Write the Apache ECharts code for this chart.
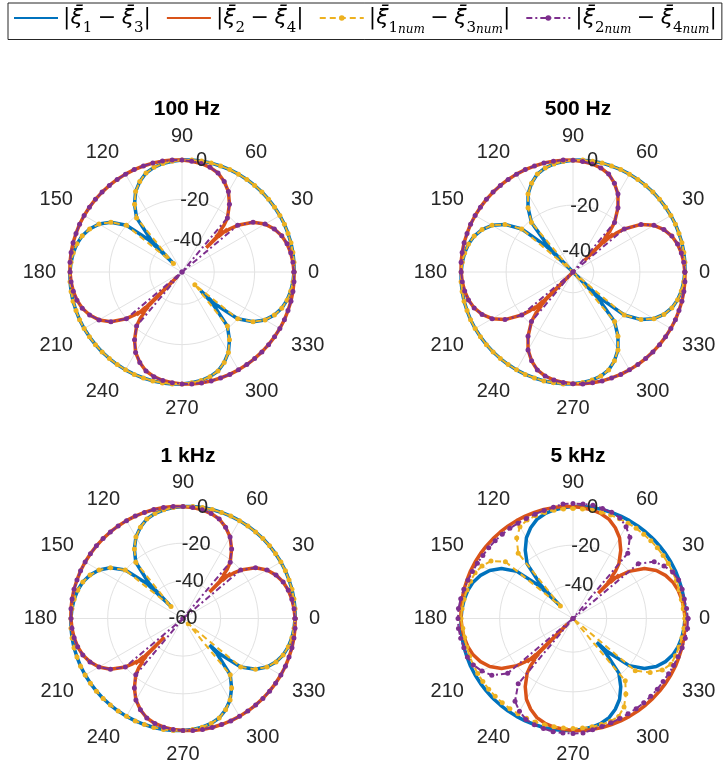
<!DOCTYPE html>
<html><head><meta charset="utf-8">
<script src="https://cdn.jsdelivr.net/npm/echarts@6/dist/echarts.min.js"></script>
<style>html,body{margin:0;padding:0;background:#fff}#c{width:726px;height:765px}</style>
</head><body><div id="c"></div>
<script>
// ---------- data ----------
const panelTitles = ['100 Hz', '500 Hz', '1 kHz', '5 kHz'];
const rMin = [-56, -49, -60, -57];
const rMax = 0;
const angleTickStep = 30;
const radialTickStep = 20;

// |xi1 - xi3| analytic: angles (deg) with extra samples at the nulls; values in dB (null = panel null depth)
const angB = [0,5,10,15,20,25,30,35,40,44,45,46,50,55,60,65,70,75,80,85,90,95,100,105,110,115,120,125,130,134,135,136,
  140,145,150,155,160,165,170,175,180,185,190,195,200,205,210,215,220,224,225,226,230,235,240,245,250,255,260,265,270,
  275,280,285,290,295,300,305,310,314,315,316,320,325,330,335,340,345,350,355,360];
const blueA = [-0.5,-0.3,-0.2,-0.1,-0.1,0,0,0,0, 0,0,0,
  0,0,0,0,-0.1,-0.1,-0.2,-0.3,-0.5,-0.9,-1.4,-2.3,-3.8,-6.5,-10,-15,-21, -34,null,-33,
  -20,-13,-8.5,-5.5,-3.4,-2.1,-1.3,-0.8,-0.5,-0.3,-0.2,-0.1,-0.1,0,0,0,0, 0,0,0,
  0,0,0,0,-0.1,-0.1,-0.2,-0.3,-0.5,-0.9,-1.4,-2.3,-3.8,-6.5,-10,-15,-21, -34,null,-33,
  -20,-13,-8.5,-5.5,-3.4,-2.1,-1.3,-0.8,-0.5];
// |xi2 - xi4| analytic: denser, noisy samples around its nulls (45, 225 deg)
const angR = [0,5,10,15,20,25,30,35,40,42,43,43.5,44,44.5,45,45.5,46,46.5,47,48,
  50,55,60,65,70,75,80,85,90,95,100,105,110,115,120,125,130,135,
  140,145,150,155,160,165,170,175,180,185,190,195,200,205,210,215,220,222,223,223.5,224,224.5,225,225.5,226,226.5,227,228,
  230,235,240,245,250,255,260,265,270,275,280,285,290,295,300,305,310,315,320,325,330,335,340,345,350,355,360];
const redA = [-0.5,-0.8,-1.3,-2.1,-3.4,-5.5,-8.5,-13,-20,-24,-27,-25,-31,-28,null,-29,-32,-27,-29,-25,
  -21,-15,-10,-6.5,-3.8,-2.3,-1.4,-0.9,-0.5,-0.3,-0.2,-0.1,-0.1,0,0,0,0,0,
  0,0,0,0,-0.1,-0.1,-0.2,-0.3,-0.5,-0.8,-1.3,-2.1,-3.4,-5.5,-8.5,-13,-20,-24,-27,-25,-31,-28,null,-29,-32,-27,-29,-25,
  -21,-15,-10,-6.5,-3.8,-2.3,-1.4,-0.9,-0.5,-0.3,-0.2,-0.1,-0.1,0,0,0,0,0,0,0,0,0,-0.1,-0.1,-0.2,-0.3,-0.5];
// null depths [first null, second null] per panel
const blueNulls = [[-50,-43],[-49,-48],[-51,-40],[-48,-40]];   // at 135, 315 deg
const redNulls  = [[-39,-53],[-42,-49],[-40,-46],[-39,-53]];   // at 45, 225 deg

// numerical curves: every 5 deg
const angN = [0,5,10,15,20,25,30,35,40,45,50,55,60,65,70,75,80,85,90,95,100,105,110,115,120,125,130,135,
  140,145,150,155,160,165,170,175,180,185,190,195,200,205,210,215,220,225,230,235,240,245,250,255,260,265,270,
  275,280,285,290,295,300,305,310,315,320,325,330,335,340,345,350,355,360];
const yellowLow = [-0.5,-0.3,-0.2,-0.1,-0.1,0,0,0,0,0,
  0,0,0,0,-0.1,-0.1,-0.2,-0.3,-0.5,
  -0.9,-1.4,-2.3,-3.8,-6.5,-10,-15,-21,null,
  -20,-13,-8.5,-5.5,-3.4,-2.1,-1.3,-0.8,-0.5,
  -0.3,-0.2,-0.1,-0.1,0,0,0,0,0,
  0,0,0,0,-0.1,-0.1,-0.2,-0.3,-0.5,
  -0.9,-1.4,-2.3,-3.8,-6.5,-10,-15,-21,null,
  -20,-13,-8.5,-5.5,-3.4,-2.1,-1.3,-0.8,-0.5];
const purpleLow = [-0.5,-0.8,-1.3,-2.1,-3.4,-5.5,-8.5,-13,-20,null,
  -21,-15,-10,-6.5,-3.8,-2.3,-1.4,-0.9,-0.5,
  -0.3,-0.2,-0.1,-0.1,0,0,0,0,0,
  0,0,0,0,-0.1,-0.1,-0.2,-0.3,-0.5,
  -0.8,-1.3,-2.1,-3.4,-5.5,-8.5,-13,-20,null,
  -21,-15,-10,-6.5,-3.8,-2.3,-1.4,-0.9,-0.5,
  -0.3,-0.2,-0.1,-0.1,0,0,0,0,0,
  0,0,0,0,-0.1,-0.1,-0.2,-0.3,-0.5];
const yellowNulls = [[-50,-47],[-49,-49],[-51,-56]];  // at 135, 315 deg (100 Hz, 500 Hz, 1 kHz)
const purpleNulls = [[-56,-56],[-49,-49],[-60,-60]];  // at 45, 225 deg
const yellow5k = [-0.5,-1.2,-1.5,-1.5,-1.5,-1.5,-1.5,-1.5,-1.5,-1.5,
  -1.5,-1.5,-1.5,-1.5,-1.5,-1.5,-1.5,-1.5,-1.5,
  -1.5,-1.5,-1.6,-1.8,-2.2,-3.5,-7.5,-14,-48,
  -12.5,-6.5,-4,-2.5,-2,-1.6,-1.2,-0.8,-0.5,
  -1.2,-1.5,-1.5,-1.5,-1.5,-1.5,-1.5,-1.5,-1.5,
  -1.5,-1.5,-1.5,-1.5,-1.5,-1.5,-1.5,-1.5,-1.5,
  -1.5,-1.5,-1.6,-1.8,-2.5,-5.5,-10.5,-16,-57,
  -16,-9.5,-5,-2.5,-2,-1.6,-1.2,-0.8,-0.5];
const purple5k = [1,0.5,0,0,-0.3,-1.5,-4,-7,-14,-57,
  -14,-7,-3.5,-1,0,0.5,1,1,1,
  1,0,-0.6,-1,-1.3,-1.5,-1.5,-1.5,-1.5,
  -1.5,-1.5,-1.3,-1,-0.6,0,0.5,1,1,
  1,0.5,0,-0.3,-1.5,-4,-7,-14,-57,
  -14,-6,-3,-0.8,0,0.5,1,1,1,
  1,0,-0.6,-1,-1.3,-1.5,-1.5,-1.5,-1.5,
  -1.5,-1.5,-1.3,-1,-0.6,0,0.5,1,1];

const seriesNames = ['b', 'r', 'y', 'p'];
const legendLabels = [
  '{n||}{m|ξ\u0304}{s|1}{n|\u2005−\u2005}{m|ξ\u0304}{s|3}{n||}',
  '{n||}{m|ξ\u0304}{s|2}{n|\u2005−\u2005}{m|ξ\u0304}{s|4}{n||}',
  '{n||}{m|ξ\u0304}{s|1}{ss|num}{n|\u2005−\u2005}{m|ξ\u0304}{s|3}{ss|num}{n||}',
  '{n||}{m|ξ\u0304}{s|2}{ss|num}{n|\u2005−\u2005}{m|ξ\u0304}{s|4}{ss|num}{n||}'
];

// ---------- layout / style ----------
const centers = [[182, 272], [573, 272], [183, 618.5], [573, 618.5]];
const R = 113;          // radius of the 0 dB circle
const dataHeadroom = 3; // dB of extra room in the data polar so curves on 0 dB are not clipped
const C = { b: '#0072BD', r: '#D95319', y: '#EDB120', p: '#7E2F8E' };
const gridCol = '#e2e2e2';
const tickFont = { fontFamily: 'Liberation Sans, Arial, sans-serif', fontSize: 20, color: '#262626' };

function fillNulls(vals, nulls) { let k = 0; return vals.map(v => v === null ? nulls[k++] : v); }
function pairs(vals, angs) { return vals.map((v, i) => [v, angs[i]]); }

const polar = [], angleAxis = [], radiusAxis = [], series = [], title = [];
// 0..3: data polars (slightly larger so that 0 dB sits at R)
for (let i = 0; i < 4; i++) {
  const Rd = R * (rMax + dataHeadroom - rMin[i]) / (rMax - rMin[i]);
  polar.push({ center: centers[i], radius: Rd });
  angleAxis.push({ polarIndex: i, type: 'value', min: 0, max: 360, startAngle: 0, clockwise: false, show: false });
  radiusAxis.push({ polarIndex: i, type: 'value', min: rMin[i], max: rMax + dataHeadroom, show: false });
  title.push({
    text: panelTitles[i], left: centers[i][0], top: centers[i][1] - 178, textAlign: 'center',
    textStyle: { fontFamily: 'Liberation Sans, Arial, sans-serif', fontSize: 21, fontWeight: 'bold', color: '#000' }
  });
}
// 4..7: grid polars (angle labels, spokes, circles)
for (let i = 0; i < 4; i++) {
  polar.push({ center: centers[i], radius: R });
  angleAxis.push({
    polarIndex: 4 + i, type: 'value', min: 0, max: 360, interval: angleTickStep, startAngle: 0, clockwise: false,
    axisLine: { show: true, lineStyle: { color: gridCol, width: 1 } },
    axisTick: { show: false },
    axisLabel: Object.assign({ margin: 13, formatter: v => (v >= 360 ? '' : String(v)) }, tickFont),
    splitLine: { show: true, lineStyle: { color: gridCol, width: 1 } }
  });
  radiusAxis.push({
    polarIndex: 4 + i, type: 'value', min: rMin[i], max: rMax, splitNumber: 3,
    minInterval: radialTickStep, maxInterval: radialTickStep,
    axisLine: { show: false }, axisTick: { show: false }, axisLabel: { show: false },
    splitLine: { show: true, lineStyle: { color: gridCol, width: 1 } }
  });
}
// 8..11: radial tick labels along the 80 deg direction
for (let i = 0; i < 4; i++) {
  polar.push({ center: centers[i], radius: R });
  angleAxis.push({ polarIndex: 8 + i, type: 'value', min: 0, max: 360, startAngle: 80, clockwise: false, show: false });
  radiusAxis.push({
    polarIndex: 8 + i, type: 'value', min: rMin[i], max: rMax, splitNumber: 3,
    minInterval: radialTickStep, maxInterval: radialTickStep, z: 20,
    axisLine: { show: false }, axisTick: { show: false }, splitLine: { show: false },
    axisLabel: Object.assign({ show: true, margin: 0, align: 'center', verticalAlign: 'middle',
      formatter: v => (Math.round(v) % radialTickStep === 0 ? String(Math.round(v)) : '') }, tickFont)
  });
}

for (let i = 0; i < 4; i++) {
  const common = { type: 'line', coordinateSystem: 'polar', polarIndex: i, clip: false, animation: false };
  series.push(Object.assign({}, common, {
    name: 'b', data: pairs(fillNulls(blueA, blueNulls[i]), angB), symbol: 'none',
    lineStyle: { color: C.b, width: 3.5 }, itemStyle: { color: C.b }, z: 2
  }));
  series.push(Object.assign({}, common, {
    name: 'r', data: pairs(fillNulls(redA, redNulls[i]), angR), symbol: 'none',
    lineStyle: { color: C.r, width: 3.5 }, itemStyle: { color: C.r }, z: 3
  }));
  const yv = i < 3 ? fillNulls(yellowLow, yellowNulls[i]) : yellow5k;
  const pv = i < 3 ? fillNulls(purpleLow, purpleNulls[i]) : purple5k;
  series.push(Object.assign({}, common, {
    name: 'y', data: pairs(yv, angN), symbol: 'circle', symbolSize: 5, showSymbol: true,
    lineStyle: { color: C.y, width: 2, type: [6, 4] }, itemStyle: { color: C.y }, z: 4
  }));
  series.push(Object.assign({}, common, {
    name: 'p', data: pairs(pv, angN), symbol: 'circle', symbolSize: 5, showSymbol: true,
    lineStyle: { color: C.p, width: 2, type: [6, 3, 2, 3] }, itemStyle: { color: C.p }, z: 5
  }));
}

const serif = 'DejaVu Serif, Liberation Serif, serif';
const base = { fontSize: 22, lineHeight: 35, color: '#000' };
const option = {
  backgroundColor: '#fff',
  animation: false,
  title: title,
  legend: {
    data: [
      { name: 'b', itemStyle: { opacity: 0 } },
      { name: 'r', itemStyle: { opacity: 0 } },
      { name: 'y' },
      { name: 'p' }
    ],
    left: 8, top: 3, orient: 'horizontal',
    padding: [4, 5, 4, 5], itemGap: 15, itemWidth: 44, itemHeight: 7,
    borderColor: '#262626', borderWidth: 1, backgroundColor: '#fff',
    selectedMode: false,
    formatter: name => legendLabels[seriesNames.indexOf(name)],
    textStyle: {
      rich: {
        m: Object.assign({ fontFamily: 'DejaVu Sans', fontStyle: 'italic' }, base),
        n: Object.assign({ fontFamily: serif }, base),
        s: { fontFamily: serif, fontSize: 15, lineHeight: 16, verticalAlign: 'bottom', color: '#000' },
        ss: { fontFamily: serif, fontStyle: 'italic', fontSize: 12, lineHeight: 11, verticalAlign: 'bottom', color: '#000' }
      }
    }
  },
  polar: polar,
  angleAxis: angleAxis,
  radiusAxis: radiusAxis,
  series: series
};
const chart = echarts.init(document.getElementById('c'), null, { renderer: 'canvas' });
chart.setOption(option);
</script></body></html>
